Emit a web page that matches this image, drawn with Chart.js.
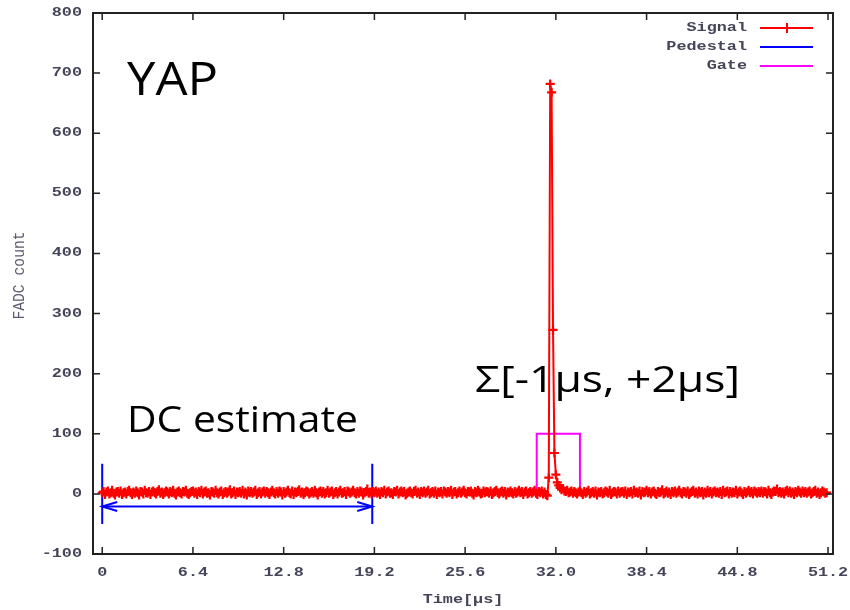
<!DOCTYPE html>
<html>
<head>
<meta charset="utf-8">
<script src="https://cdn.jsdelivr.net/npm/chart.js@4.4.1/dist/chart.umd.min.js"></script>
<style>
  body { margin: 0; background: #fff; }
  #wrap { width: 850px; height: 610px; }
</style>
</head>
<body>
<div id="wrap"><canvas id="fadc" width="850" height="610"></canvas></div>
<script>
// sample clock of the FADC trace (µs per sample)
var sampleStep = 0.1;

// FADC counts, one per sample (0 .. 51.1 µs)
var signalCounts = [
    2, 4, -1, 3, 5, 0, 2, 6, 1, -2, 3, 4, 1, 5, -1, 2,
    3, 0, 4, 6, 2, -1, 3, 1, 5, 2, -2, 4, 3, 0, 6, 2,
    1, 4, -1, 3, 5, 2, 0, 4, 7, 1, 3, -1, 2, 5, 3, 0,
    4, 2, 6, 1, -2, 3, 5, 2, 0, 4, 3, 6, 1, -1, 2, 4,
    5, 1, 3, -1, 4, 2, 6, 0, 3, 5, 1, 2, -2, 4, 3, 1,
    6, 2, 0, 3, 5, -1, 2, 4, 1, 3, 7, 0, 2, 5, -1, 3,
    2, 4, 1, 6, 0, 3, -2, 5, 2, 4, 1, 3, 6, -1, 2, 4,
    0, 3, 5, 1, 4, 2, -1, 3, 6, 2, 0, 4, 1, 5, 3, -2,
    4, 1, 3, 6, 2, 0, 5, -1, 3, 2, 4, 7, 1, 3, -1, 2,
    5, 3, 0, 2, 4, 1, 6, 2, -2, 3, 5, 1, 4, 0, 2, 6,
    1, 3, 5, -1, 2, 4, 0, 3, 6, 1, 2, 4, -1, 5, 3, 1,
    3, 6, 2, 0, 4, 1, 5, 3, -2, 2, 4, 8, 1, 3, 0, 4,
    2, 5, 1, 3, -1, 4, 2, 6, 0, 3, 5, 1, 2, -1, 4, 3,
    6, 0, 3, 5, 2, 4, -2, 1, 3, 5, 2, 0, 4, 6, 1, 3,
    -1, 4, 2, 5, 1, 3, 6, 0, 2, 4, 1, 5, -1, 3, 2, 4,
    0, 5, 3, 1, 4, 2, 6, -1, 3, 4, 0, 2, 5, 1, 3, 6,
    2, 0, 4, 3, 5, 1, -2, 4, 2, 6, 3, 0, 1, 5, 2, 4,
    3, 1, 5, -1, 2, 4, 6, 2, 0, 3, 5, 1, 4, -2, 3, 2,
    5, 2, 0, 4, 1, 3, 6, 2, 4, -1, 3, 5, 0, 2, 4, 1,
    3, 6, 1, -1, 4, 2, 5, 0, 3, -1, -3, 27, 682, 668, 273, 68,
    32, 19, 14, 10, 7, 9, 5, 4, 6, 2, 3, 5, 1, 4, 2, 0,
    3, 5, 2, -1, 4, 1, 3, 6, 0, 2, 4, 1, 5, -2, 3, 2,
    4, 0, 2, 5, 3, 1, 6, -1, 2, 4, 3, 0, 5, 1, 3, 4,
    1, 5, -1, 3, 2, 4, 0, 6, 2, 3, 1, 5, -2, 4, 2, 3,
    6, 2, 4, 0, 3, 5, 1, -1, 4, 2, 3, 7, 0, 2, 5, 1,
    3, -1, 4, 2, 5, 1, 3, 6, 2, 0, 4, 3, 1, 5, -1, 2,
    4, 6, 1, 3, 0, 5, 2, 4, -2, 3, 1, 6, 2, 4, 0, 3,
    5, 2, 3, 1, 4, -1, 6, 2, 3, 5, 0, 4, 1, 3, 2, 6,
    0, 3, 5, 2, -1, 4, 1, 3, 6, 2, 4, 0, 5, 3, 1, 4,
    2, 5, 1, 4, 3, 0, 6, 2, -1, 3, 5, 4, 8, 2, 4, 1,
    3, 0, 4, 6, 2, 5, 1, 3, -1, 4, 2, 6, 3, 1, 5, 2,
    4, 1, 3, 5, 0, 2, 4, 6, 1, 3, -1, 2, 5, 3, 1, 2
];

// pedestal (DC estimate) window and gate window, µs / counts
var pedestalWindow = [0, 19.05];
var pedestalBar = [-50, 50];
var pedestalArrowLevel = -21;
var gateWindow = [30.65, 33.7];
var gateLevel = [0, 100];

var xTickValues = [0, 6.4, 12.8, 19.2, 25.6, 32.0, 38.4, 44.8, 51.2];
var xTickLabels = ['0', '6.4', '12.8', '19.2', '25.6', '32.0', '38.4', '44.8', '51.2'];
var yTickValues = [-100, 0, 100, 200, 300, 400, 500, 600, 700, 800];

var legendNames = ['Signal', 'Pedestal', 'Gate'];
var legendColors = ['#ff0000', '#0000ff', '#ff00ff'];

var signalPoints = signalCounts.map(function (v, i) {
    return { x: +(i * sampleStep).toFixed(2), y: v };
});

var pedestalPoints = [
    { x: pedestalWindow[0], y: pedestalBar[0] }, { x: pedestalWindow[0], y: pedestalBar[1] },
    { x: pedestalWindow[0], y: null },
    { x: pedestalWindow[1], y: pedestalBar[0] }, { x: pedestalWindow[1], y: pedestalBar[1] },
    { x: pedestalWindow[1], y: null },
    { x: pedestalWindow[0], y: pedestalArrowLevel }, { x: pedestalWindow[1], y: pedestalArrowLevel }
];

var gatePoints = [
    { x: gateWindow[0], y: gateLevel[0] }, { x: gateWindow[0], y: gateLevel[1] },
    { x: gateWindow[1], y: gateLevel[1] }, { x: gateWindow[1], y: gateLevel[0] }
];

var monoFont = 'bold 12px "Liberation Mono"';
var labelColor = '#45455a';

function stretchText(ctx, text, x, y, sx, align) {
    ctx.save();
    ctx.translate(x, y);
    ctx.scale(sx, 1);
    ctx.textAlign = align;
    ctx.fillText(text, 0, 0);
    ctx.restore();
}

function fitText(ctx, text, x, y, font, width) {
    ctx.save();
    ctx.font = font;
    var w = ctx.measureText(text).width;
    ctx.translate(x, y);
    ctx.scale(width / w, 1);
    ctx.textAlign = 'left';
    ctx.textBaseline = 'alphabetic';
    ctx.fillText(text, 0, 0);
    ctx.restore();
}

var gnuplotFrame = {
    id: 'gnuplotFrame',
    afterDraw: function (chart) {
        var ctx = chart.ctx;
        var a = chart.chartArea;
        var xs = chart.scales.x, ys = chart.scales.y;
        var tick = 7;

        ctx.save();
        ctx.strokeStyle = '#222';
        ctx.lineWidth = 2;
        ctx.strokeRect(a.left, a.top, a.right - a.left, a.bottom - a.top);

        ctx.lineWidth = 1.5;
        ctx.beginPath();
        xTickValues.forEach(function (v) {
            var px = xs.getPixelForValue(v);
            ctx.moveTo(px, a.bottom); ctx.lineTo(px, a.bottom - tick);
            ctx.moveTo(px, a.top); ctx.lineTo(px, a.top + tick);
        });
        yTickValues.forEach(function (v) {
            var py = ys.getPixelForValue(v);
            ctx.moveTo(a.left, py); ctx.lineTo(a.left + tick, py);
            ctx.moveTo(a.right, py); ctx.lineTo(a.right - tick, py);
        });
        ctx.stroke();

        // tick labels
        ctx.fillStyle = labelColor;
        ctx.font = monoFont;
        ctx.textBaseline = 'middle';
        yTickValues.forEach(function (v) {
            stretchText(ctx, String(v), 82, ys.getPixelForValue(v), 1.4, 'right');
        });
        xTickValues.forEach(function (v, i) {
            stretchText(ctx, xTickLabels[i], xs.getPixelForValue(v), 573, 1.4, 'center');
        });

        // axis titles
        stretchText(ctx, 'Time[\u00b5s]', (a.left + a.right) / 2, 600, 1.4, 'center');
        ctx.save();
        ctx.translate(20, (a.top + a.bottom) / 2 - 8);
        ctx.rotate(-Math.PI / 2);
        ctx.fillStyle = '#5a5a70';
        ctx.font = '14px "Liberation Mono"';
        ctx.textAlign = 'center';
        ctx.scale(1.05, 1.2);
        ctx.fillText('FADC count', 0, 0);
        ctx.restore();

        // legend
        var rows = [28, 47, 66];
        legendNames.forEach(function (name, i) {
            ctx.fillStyle = labelColor;
            ctx.font = monoFont;
            ctx.textBaseline = 'middle';
            stretchText(ctx, name, 747, rows[i], 1.4, 'right');
            ctx.strokeStyle = legendColors[i];
            ctx.lineWidth = 2;
            ctx.beginPath();
            ctx.moveTo(760, rows[i]); ctx.lineTo(813, rows[i]);
            if (i === 0) { ctx.moveTo(787, rows[i] - 5); ctx.lineTo(787, rows[i] + 5); }
            ctx.stroke();
        });

        // pedestal arrow heads
        var ay = ys.getPixelForValue(pedestalArrowLevel);
        var ax0 = xs.getPixelForValue(pedestalWindow[0]);
        var ax1 = xs.getPixelForValue(pedestalWindow[1]);
        ctx.strokeStyle = '#0000ff';
        ctx.lineWidth = 2;
        ctx.beginPath();
        ctx.moveTo(ax0 + 15, ay - 4.5); ctx.lineTo(ax0, ay); ctx.lineTo(ax0 + 15, ay + 4.5);
        ctx.moveTo(ax1 - 15, ay - 4.5); ctx.lineTo(ax1, ay); ctx.lineTo(ax1 - 15, ay + 4.5);
        ctx.stroke();

        // slide annotations
        ctx.fillStyle = '#000';
        fitText(ctx, 'YAP', 127, 95, '46px "Open Sans"', 91);
        fitText(ctx, 'DC estimate', 127, 432, '37px "Open Sans"', 231);
        fitText(ctx, '\u03a3[-1\u00b5s, +2\u00b5s]', 475, 392, '37px "Open Sans"', 265);
        ctx.restore();
    }
};

var ctx = document.getElementById('fadc').getContext('2d');
var fadcChart = new Chart(ctx, {
    type: 'line',
    data: {
        datasets: [{
            label: legendNames[0],
            data: signalPoints,
            borderColor: legendColors[0],
            borderWidth: 2,
            pointStyle: 'cross',
            pointRadius: 4.5,
            pointBorderColor: legendColors[0],
            pointBorderWidth: 2.2,
            tension: 0
        }, {
            label: legendNames[1],
            data: pedestalPoints,
            borderColor: legendColors[1],
            borderWidth: 2,
            pointRadius: 0,
            spanGaps: false
        }, {
            label: legendNames[2],
            data: gatePoints,
            borderColor: legendColors[2],
            borderWidth: 2,
            pointRadius: 0
        }]
    },
    options: {
        responsive: false,
        animation: false,
        layout: { padding: { left: 93, right: 17, top: 13, bottom: 56 } },
        plugins: { legend: { display: false }, tooltip: { enabled: false } },
        scales: {
            x: {
                type: 'linear', min: -0.65, max: 51.55,
                grid: { display: false }, border: { display: false },
                ticks: { display: false },
                afterFit: function (s) { s.height = 0; }
            },
            y: {
                min: -100, max: 800,
                grid: { display: false }, border: { display: false },
                ticks: { display: false },
                afterFit: function (s) { s.width = 0; }
            }
        }
    },
    plugins: [gnuplotFrame]
});
</script>
</body>
</html>
